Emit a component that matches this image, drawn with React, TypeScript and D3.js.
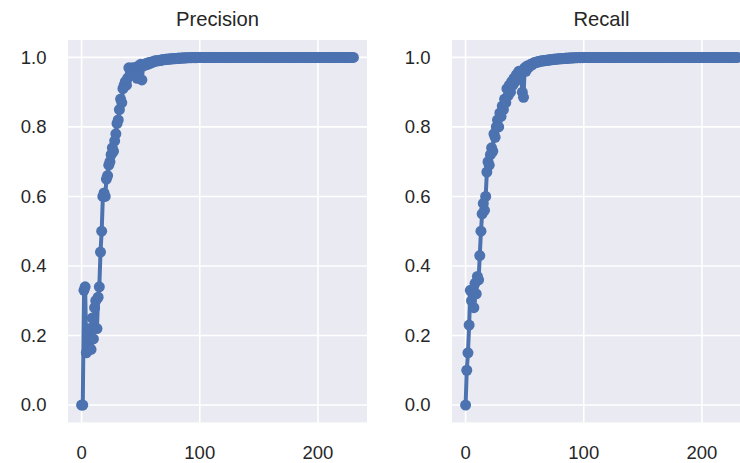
import React from "react";
import * as d3 from "d3";

const titles = ["Precision", "Recall"];
const yTicks = [0, 0.2, 0.4, 0.6, 0.8, 1.0];
const xTicks = [0, 100, 200];

const precision: number[] = [
  0, 0, 0.33, 0.34, 0.15, 0.2, 0.17, 0.22, 0.16, 0.25,
  0.19, 0.28, 0.3, 0.22, 0.31, 0.34, 0.44, 0.5, 0.6, 0.61,
  0.6, 0.65, 0.66, 0.69, 0.7, 0.72, 0.74, 0.73, 0.76, 0.78,
  0.81, 0.82, 0.85, 0.88, 0.87, 0.91, 0.92, 0.93, 0.92, 0.94,
  0.97, 0.95, 0.96, 0.97, 0.95, 0.97, 0.96, 0.94, 0.975, 0.97,
  0.98, 0.935, 0.975, 0.98, 0.978, 0.983,
  0.98, 0.985, 0.983, 0.987, 0.986, 0.988, 0.99, 0.989, 0.991, 0.99,
  0.992, 0.991, 0.993, 0.994, 0.993, 0.994, 0.995, 0.994, 0.995, 0.996,
  0.995, 0.996, 0.997, 0.996, 0.997, 0.997, 0.998, 0.997, 0.998, 0.998,
  0.998, 0.999, 0.998, 0.999, 0.999, 0.999, 0.999, 0.999, 1, 0.999,
  1, 0.999, 1, 1, 1,
  1, 1, 1, 1, 1, 1, 1, 1, 1, 1,
  1, 1, 1, 1, 1, 1, 1, 1, 1, 1,
  1, 1, 1, 1, 1, 1, 1, 1, 1, 1,
  1, 1, 1, 1, 1, 1, 1, 1, 1, 1,
  1, 1, 1, 1, 1, 1, 1, 1, 1, 1,
  1, 1, 1, 1, 1, 1, 1, 1, 1, 1,
  1, 1, 1, 1, 1, 1, 1, 1, 1, 1,
  1, 1, 1, 1, 1, 1, 1, 1, 1, 1,
  1, 1, 1, 1, 1, 1, 1, 1, 1, 1,
  1, 1, 1, 1, 1, 1, 1, 1, 1, 1,
  1, 1, 1, 1, 1, 1, 1, 1, 1, 1,
  1, 1, 1, 1, 1, 1, 1, 1, 1, 1,
  1, 1, 1, 1, 1, 1, 1, 1, 1, 1,
];

const recall: number[] = [
  0, 0.1, 0.15, 0.23, 0.33, 0.3, 0.32, 0.28, 0.35, 0.32,
  0.37, 0.36, 0.43, 0.5, 0.55, 0.58, 0.56, 0.6, 0.67, 0.7,
  0.69, 0.72, 0.74, 0.73, 0.78, 0.77, 0.8, 0.82, 0.8, 0.84,
  0.83, 0.86, 0.85, 0.88, 0.87, 0.91, 0.89, 0.92, 0.9, 0.93,
  0.92, 0.94, 0.93, 0.95, 0.94, 0.96, 0.95, 0.96, 0.9, 0.885,
  0.97, 0.96, 0.975,
  0.97, 0.975, 0.98, 0.978, 0.982, 0.985, 0.984, 0.986, 0.988, 0.987,
  0.989, 0.99, 0.989, 0.991, 0.99, 0.992, 0.991, 0.993, 0.992, 0.994,
  0.993, 0.994, 0.995, 0.994, 0.995, 0.996, 0.995, 0.996, 0.997, 0.996,
  0.997, 0.997, 0.998, 0.997, 0.998, 0.998, 0.998, 0.999, 0.998, 0.999,
  0.999, 0.999, 0.999, 1, 0.999, 1, 0.999, 1,
  1, 1, 1, 1, 1, 1, 1, 1, 1, 1,
  1, 1, 1, 1, 1, 1, 1, 1, 1, 1,
  1, 1, 1, 1, 1, 1, 1, 1, 1, 1,
  1, 1, 1, 1, 1, 1, 1, 1, 1, 1,
  1, 1, 1, 1, 1, 1, 1, 1, 1, 1,
  1, 1, 1, 1, 1, 1, 1, 1, 1, 1,
  1, 1, 1, 1, 1, 1, 1, 1, 1, 1,
  1, 1, 1, 1, 1, 1, 1, 1, 1, 1,
  1, 1, 1, 1, 1, 1, 1, 1, 1, 1,
  1, 1, 1, 1, 1, 1, 1, 1, 1, 1,
  1, 1, 1, 1, 1, 1, 1, 1, 1, 1,
  1, 1, 1, 1, 1, 1, 1, 1, 1, 1,
  1, 1, 1, 1, 1, 1, 1, 1, 1, 1,
];

const series = [precision, recall];

const W = 740;
const H = 463;
const panelLefts = [68, 452];
const panelW = 299;
const top = 40;
const bottom = 422.4;
const FONT = "'Liberation Sans', Arial, sans-serif";
const BLUE = "#4C72B0";
const TXT = "#262626";

function Panel({ idx }: { idx: number }) {
  const data = series[idx];
  const left = panelLefts[idx];
  const n = data.length - 1;
  const x = d3.scaleLinear().domain([-0.05 * n, n * 1.05]).range([left, left + panelW]);
  const y = d3.scaleLinear().domain([-0.05, 1.05]).range([bottom, top]);
  const pts: [number, number][] = data.map((v, i) => [i, v]);
  const line = d3.line<[number, number]>().x((d) => x(d[0])).y((d) => y(d[1]));
  const clipId = `clip${idx}`;
  return (
    <g>
      <defs>
        <clipPath id={clipId}>
          <rect x={left} y={top} width={panelW} height={bottom - top} />
        </clipPath>
      </defs>
      <rect x={left} y={top} width={panelW} height={bottom - top} fill="#EAEAF2" />
      {yTicks.map((t) => (
        <line key={"gy" + t} x1={left} x2={left + panelW} y1={y(t)} y2={y(t)} stroke="#fff" strokeWidth={1.6} />
      ))}
      {xTicks.map((t) => (
        <line key={"gx" + t} x1={x(t)} x2={x(t)} y1={top} y2={bottom} stroke="#fff" strokeWidth={1.6} />
      ))}
      <g clipPath={`url(#${clipId})`}>
        <path d={line(pts) || ""} fill="none" stroke={BLUE} strokeWidth={4} strokeLinejoin="round" />
        {pts.map((p, i) => (
          <circle key={i} cx={x(p[0])} cy={y(p[1])} r={5.5} fill={BLUE} />
        ))}
      </g>
      {yTicks.map((t) => (
        <text key={"ty" + t} x={left - 21.5} y={y(t)} dy="0.35em" textAnchor="end" fontSize={18.5} fill={TXT} fontFamily={FONT}>
          {t.toFixed(1)}
        </text>
      ))}
      {xTicks.map((t) => (
        <text key={"tx" + t} x={x(t)} y={459} textAnchor="middle" fontSize={18.5} fill={TXT} fontFamily={FONT}>
          {t}
        </text>
      ))}
      <text x={left + panelW / 2} y={26} textAnchor="middle" fontSize={20.2} fill={TXT} fontFamily={FONT}>
        {titles[idx]}
      </text>
    </g>
  );
}

export default function App() {
  return (
    <svg width={W} height={H} style={{ position: "absolute", left: 0, top: 0, background: "#fff" }}>
      <rect x={0} y={0} width={W} height={H} fill="#fff" />
      <Panel idx={0} />
      <Panel idx={1} />
    </svg>
  );
}
